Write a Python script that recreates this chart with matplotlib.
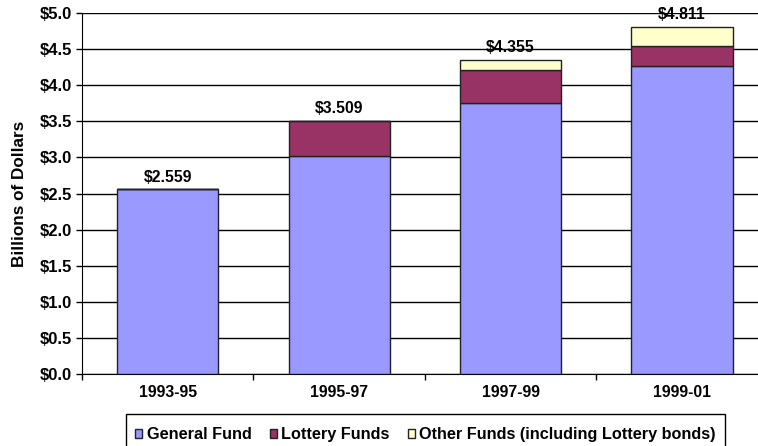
import matplotlib.pyplot as plt
import numpy as np
from matplotlib.patches import Rectangle
from matplotlib.ticker import FixedLocator, FuncFormatter

# Data (billions of dollars)
periods = ['1993-95', '1995-97', '1997-99', '1999-01']
general_fund = [2.559, 3.02, 3.76, 4.26]
lottery_funds = [0.0, 0.489, 0.455, 0.29]
other_funds = [0.0, 0.0, 0.14, 0.261]
totals = ['$2.559', '$3.509', '$4.355', '$4.811']

plt.rcParams['font.family'] = ['Liberation Sans', 'DejaVu Sans']
plt.rcParams['font.weight'] = 'bold'

fig = plt.figure(figsize=(7.58, 4.46), dpi=100)
ax = fig.add_axes([0.1082, 0.1614, 0.9046, 0.8094])

x = np.arange(len(periods))
w = 0.59
gf = np.array(general_fund)
lf = np.array(lottery_funds)
of = np.array(other_funds)

ax.bar(x, gf, w, color='#9999FF', edgecolor='#222222', linewidth=1, label='General Fund', zorder=3)
ax.bar(x, lf, w, bottom=gf, color='#993366', edgecolor='#222222', linewidth=1, label='Lottery Funds', zorder=3)
ax.bar(x, of, w, bottom=gf + lf, color='#FFFFCC', edgecolor='#222222', linewidth=1,
       label='Other Funds (including Lottery bonds)', zorder=3)

tops = gf + lf + of
for xi, t, s in zip(x, tops, totals):
    ax.annotate(s, (xi, t), xytext=(0, 5.5), textcoords='offset points',
                ha='center', va='baseline', fontsize=11.3, fontweight='bold', zorder=4)

ax.set_xlim(-0.5, 3.5)
ax.set_ylim(0, 5.0)
ax.set_yticks(np.arange(0, 5.01, 0.5))
ax.yaxis.set_major_formatter(FuncFormatter(lambda v, p: '${:.1f}'.format(v)))
ax.yaxis.grid(True, color='black', linewidth=1)
ax.set_axisbelow(True)

ax.set_xticks(x)
ax.set_xticklabels(periods)
ax.xaxis.set_minor_locator(FixedLocator(np.arange(-0.5, 3.6, 1.0)))
ax.tick_params(axis='x', which='major', length=0, pad=8, labelsize=11.4)
ax.tick_params(axis='x', which='minor', length=4, width=1, direction='out')
ax.tick_params(axis='y', length=4, width=1, direction='out', labelsize=12, pad=3)
for lab in ax.get_xticklabels() + ax.get_yticklabels():
    lab.set_fontweight('bold')

ax.spines['top'].set_visible(False)
ax.spines['right'].set_visible(False)
ax.spines['left'].set_color('black')
ax.spines['bottom'].set_color('black')

ax.set_ylabel('Billions of Dollars', fontsize=12.3, fontweight='bold', labelpad=9)

# legend box runs off the bottom edge of the figure
fig.patches.append(Rectangle((0.1662, -0.1), 0.790, 0.1717, transform=fig.transFigure,
                             facecolor='none', edgecolor='black', linewidth=1))
leg = fig.legend(loc='center left', bbox_to_anchor=(0.1785, 0.0247), ncol=3, frameon=False,
                 handlelength=0.42, handleheight=0.42, handletextpad=0.3, columnspacing=1.1,
                 borderpad=0, borderaxespad=0, prop={'weight': 'bold', 'size': 11.7})
for h in leg.legend_handles:
    h.set_edgecolor('#222222')

fig.savefig('out.png', dpi=100)
